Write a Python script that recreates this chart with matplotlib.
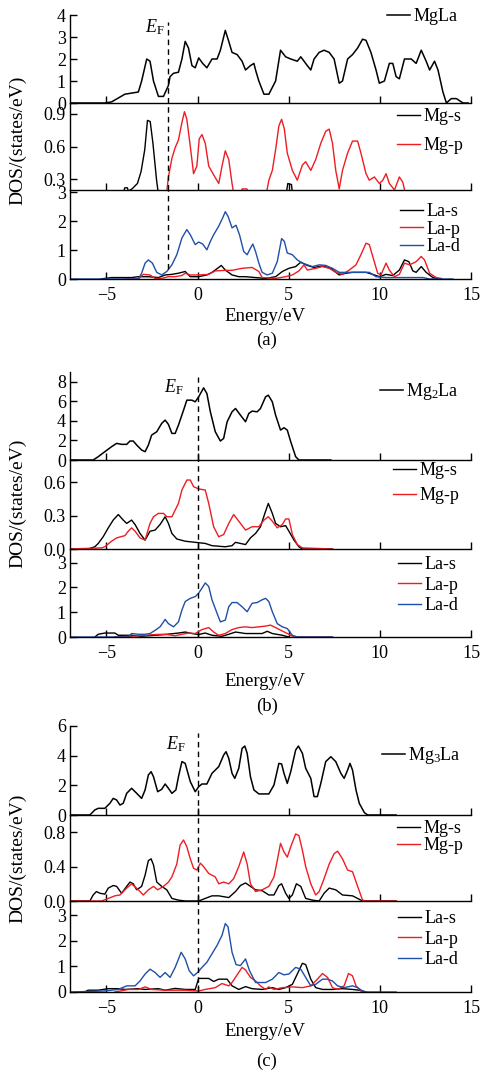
import matplotlib.pyplot as plt

plt.rcParams['font.family'] = ['Liberation Serif', 'DejaVu Serif']
plt.rcParams['mathtext.fontset'] = 'custom'
plt.rcParams['mathtext.rm'] = 'Liberation Serif'
plt.rcParams['mathtext.it'] = 'Liberation Serif:italic'

BLACK = 'black'
RED = '#ee1d23'
BLUE = '#1f4fa8'

# ---------------- (a) MgLa ----------------
ef_a = -1.6
mgla_e = [-7.0, -5.09, -4.72, -3.99, -3.25, -3.07, -2.79, -2.61, -2.42, -2.15, -1.87, -1.60, -1.51, -1.32,
          -1.05, -0.86, -0.68, -0.50, -0.31, -0.13, 0.06, 0.28, 0.51, 0.79, 1.07, 1.25, 1.52, 1.71, 1.89,
          2.17, 2.44, 2.63, 2.90, 3.09, 3.18, 3.36, 3.64, 3.91, 4.28, 4.55, 4.83, 5.11, 5.47, 5.66, 5.84,
          6.02, 6.21, 6.39, 6.67, 6.94, 7.22, 7.49, 7.77, 7.95, 8.23, 8.50, 8.78, 9.05, 9.24, 9.51, 9.79,
          9.97, 10.25, 10.52, 10.71, 10.89, 11.07, 11.35, 11.72, 11.99, 12.27, 12.54, 12.73, 13.00, 13.19,
          13.46, 13.65, 13.92, 14.20, 14.56, 14.84]
mgla_dos = [0, 0, 0.05, 0.4, 0.5, 1.0, 2.0, 1.9, 1.0, 0.3, 0.3, 0.8, 1.2, 1.35, 1.4, 2.0, 2.8, 2.5, 1.7, 1.6,
            2.05, 1.8, 1.6, 2.0, 2.0, 2.4, 3.3, 2.8, 2.3, 2.2, 1.9, 1.5, 1.7, 1.8, 1.5, 1.0, 0.4, 0.4, 1.0,
            2.4, 2.1, 2.0, 1.9, 2.1, 1.9, 1.7, 1.5, 2.0, 2.3, 2.4, 2.3, 2.0, 0.9, 1.0, 2.0, 2.2, 2.5, 2.9,
            2.85, 2.3, 1.5, 0.9, 1.0, 1.8, 1.8, 1.2, 1.1, 2.0, 2.0, 1.8, 2.4, 1.9, 1.5, 1.9, 1.5, 0.5, 0.0,
            0.2, 0.2, 0.0, 0.0]

a_mgs_e = [-4.15, -4.0, -3.85, -3.8, -3.6, -3.3, -3.1, -2.9, -2.75, -2.6, -2.45, -2.25, -2.1, 4.8, 4.95, 5.15, 5.25]
a_mgs = [0.1, 0.22, 0.22, 0.19, 0.21, 0.26, 0.37, 0.57, 0.84, 0.83, 0.63, 0.29, 0.1, 0.1, 0.26, 0.25, 0.1]

a_mgp_e = [-1.75, -1.60, -1.41, -1.23, -1.05, -0.86, -0.72, -0.59, -0.40, -0.22, -0.04, 0.09, 0.24, 0.42, 0.61,
           0.88, 1.16, 1.34, 1.52, 1.71, 1.89, 2.05, 2.35, 2.45, 2.7, 2.8, 3.7, 3.91, 4.10, 4.28, 4.46, 4.61,
           4.76, 4.92, 5.20, 5.47, 5.75, 5.93, 6.21, 6.48, 6.76, 7.03, 7.22, 7.40, 7.58, 7.77, 7.95, 8.23,
           8.50, 8.78, 8.96, 9.24, 9.42, 9.70, 9.97, 10.16, 10.34, 10.52, 10.80, 11.07, 11.26, 11.5]
a_mgp = [0.1, 0.32, 0.49, 0.59, 0.66, 0.82, 0.92, 0.85, 0.6, 0.35, 0.42, 0.67, 0.71, 0.63, 0.42, 0.34, 0.26,
         0.42, 0.56, 0.48, 0.26, 0.1, 0.18, 0.21, 0.21, 0.18, 0.1, 0.29, 0.38, 0.57, 0.79, 0.85, 0.76, 0.54,
         0.38, 0.29, 0.43, 0.46, 0.38, 0.48, 0.63, 0.74, 0.76, 0.63, 0.38, 0.21, 0.38, 0.54, 0.65, 0.65, 0.54,
         0.35, 0.29, 0.32, 0.26, 0.29, 0.35, 0.26, 0.2, 0.32, 0.27, 0.1]

a_las_e = [-5.3, -5.09, -4.72, -3.62, -3.25, -2.70, -2.15, -1.78, -1.41, -1.05, -0.68, -0.40, 0.06, 0.51, 0.79,
           1.16, 1.30, 1.52, 1.89, 2.26, 2.63, 3.18, 3.73, 4.28, 4.65, 5.01, 5.38, 5.66, 6.02, 6.39, 6.85,
           7.31, 7.77, 8.14, 8.50, 9.24, 9.61, 9.97, 10.34, 10.71, 11.07, 11.35, 11.59, 11.81, 11.99, 12.27,
           12.54, 12.91, 13.28]
a_las = [0, 0.02, 0.05, 0.05, 0.08, 0.08, 0.05, 0.14, 0.16, 0.2, 0.26, 0.08, 0.08, 0.14, 0.23, 0.4, 0.47,
         0.31, 0.14, 0.08, 0.08, 0.05, 0.02, 0.08, 0.26, 0.37, 0.43, 0.58, 0.47, 0.4, 0.45, 0.37, 0.14, 0.2,
         0.23, 0.23, 0.16, 0.08, 0.16, 0.12, 0.31, 0.66, 0.6, 0.28, 0.23, 0.43, 0.23, 0.05, 0.0]

a_lap_e = [-4.0, -3.25, -2.98, -2.61, -2.33, -1.97, -1.60, -1.23, -0.86, -0.68, -0.40, 0.06, 0.61, 0.97, 1.52,
           1.89, 2.44, 2.99, 3.36, 3.54, 4.28, 4.83, 5.20, 5.56, 5.84, 6.02, 6.48, 6.85, 7.22, 7.58, 7.95,
           8.32, 8.69, 8.96, 9.24, 9.42, 9.61, 9.88, 10.06, 10.34, 10.52, 10.80, 11.07, 11.35, 11.63, 11.99,
           12.27, 12.45, 12.73, 13.09, 13.37]
a_lap = [0, 0, 0.16, 0.14, 0.02, 0.02, 0.08, 0.08, 0.12, 0.2, 0.14, 0.14, 0.16, 0.28, 0.3, 0.3, 0.37, 0.4,
         0.26, 0.05, 0.02, 0.08, 0.14, 0.28, 0.49, 0.31, 0.37, 0.43, 0.37, 0.23, 0.16, 0.31, 0.49, 0.84, 1.24,
         1.19, 0.78, 0.2, 0.14, 0.55, 0.31, 0.08, 0.16, 0.55, 0.49, 0.6, 0.78, 0.66, 0.2, 0.05, 0.02]

a_lad_e = [-7.0, -3.25, -3.07, -2.88, -2.70, -2.48, -2.24, -1.97, -1.69, -1.41, -1.14, -0.86, -0.59, -0.40,
           -0.13, 0.06, 0.28, 0.51, 0.70, 0.88, 1.16, 1.38, 1.52, 1.67, 1.89, 2.11, 2.30, 2.53, 2.72, 2.90,
           3.03, 3.18, 3.36, 3.54, 3.82, 4.10, 4.37, 4.61, 4.76, 4.92, 5.20, 5.47, 5.75, 6.02, 6.30, 6.67,
           7.03, 7.40, 7.77, 8.14, 8.87, 9.42, 9.79, 10.34, 11.07, 12.36, 12.73, 14.01]
a_lad = [0, 0, 0.2, 0.55, 0.66, 0.55, 0.23, 0.14, 0.26, 0.49, 0.84, 1.42, 1.71, 1.53, 1.19, 1.28, 1.21, 1.01,
         1.30, 1.53, 1.83, 2.12, 2.33, 2.17, 1.77, 1.86, 1.53, 0.95, 0.84, 1.07, 1.21, 0.95, 0.55, 0.23, 0.14,
         0.2, 0.6, 1.40, 1.30, 0.9, 0.84, 0.66, 0.55, 0.49, 0.43, 0.49, 0.47, 0.37, 0.23, 0.23, 0.23, 0.23,
         0.08, 0.05, 0.05, 0.05, 0.0, 0.0]

# ---------------- (b) Mg2La ----------------
ef_b = 0.0
mg2la_e = [-7.0, -5.73, -5.45, -5.09, -4.72, -4.44, -4.17, -3.89, -3.71, -3.53, -3.34, -3.07, -2.88, -2.70,
           -2.52, -2.24, -1.97, -1.78, -1.60, -1.41, -1.23, -1.05, -0.77, -0.59, -0.31, -0.13, 0.06, 0.33,
           0.51, 0.70, 0.97, 1.25, 1.43, 1.62, 1.89, 2.08, 2.35, 2.63, 2.81, 2.99, 3.27, 3.45, 3.73, 3.88,
           4.10, 4.28, 4.55, 4.74, 4.92, 5.11, 5.38, 5.56, 7.31]
mg2la_dos = [0, 0, 0.34, 0.85, 1.36, 1.7, 1.6, 1.6, 1.94, 1.94, 1.53, 1.02, 0.85, 1.53, 2.55, 2.89, 3.74,
             4.08, 3.64, 2.72, 2.72, 3.57, 5.1, 6.12, 6.12, 5.95, 6.46, 7.38, 6.8, 4.93, 2.89, 1.94, 2.21,
             3.91, 4.93, 5.27, 4.59, 3.91, 4.76, 5.0, 4.93, 5.27, 6.46, 6.63, 5.95, 4.59, 3.06, 3.3, 3.06,
             1.87, 0.34, 0, 0]

b_mgs_e = [-7.0, -6.01, -5.64, -5.45, -5.18, -4.90, -4.63, -4.35, -4.08, -3.89, -3.62, -3.43, -3.16, -2.88,
           -2.61, -2.33, -2.06, -1.78, -1.60, -1.41, -1.14, -0.68, -0.13, 0.42, 0.79, 1.52, 1.89, 2.08, 2.35,
           2.63, 2.90, 3.18, 3.45, 3.69, 3.88, 4.10, 4.28, 4.55, 4.83, 5.01, 5.29, 5.56, 5.75, 7.40]
b_mgs = [0, 0, 0.02, 0.05, 0.11, 0.19, 0.26, 0.31, 0.26, 0.23, 0.26, 0.22, 0.14, 0.08, 0.16, 0.17, 0.22,
         0.29, 0.23, 0.14, 0.09, 0.07, 0.06, 0.05, 0.03, 0.02, 0.03, 0.06, 0.05, 0.04, 0.1, 0.14, 0.2, 0.32,
         0.41, 0.32, 0.23, 0.2, 0.21, 0.16, 0.08, 0.02, 0, 0]

b_mgp_e = [-7.0, -5.27, -5.09, -4.72, -4.44, -3.99, -3.80, -3.62, -3.43, -3.16, -2.88, -2.61, -2.42, -2.15,
           -1.87, -1.69, -1.41, -1.05, -0.86, -0.59, -0.40, -0.22, 0.06, 0.42, 0.61, 0.88, 1.16, 1.43, 1.71,
           1.98, 2.26, 2.63, 2.99, 3.36, 3.64, 3.88, 4.10, 4.37, 4.65, 4.83, 5.01, 5.20, 5.47, 5.75, 7.40]
b_mgp = [0, 0.01, 0.02, 0.07, 0.1, 0.12, 0.16, 0.19, 0.16, 0.1, 0.08, 0.23, 0.29, 0.32, 0.32, 0.29, 0.29,
         0.41, 0.53, 0.62, 0.62, 0.56, 0.54, 0.53, 0.41, 0.2, 0.11, 0.13, 0.23, 0.31, 0.25, 0.17, 0.2, 0.2,
         0.26, 0.29, 0.25, 0.19, 0.22, 0.27, 0.27, 0.13, 0.04, 0.01, 0]

b_las_e = [-5.64, -5.45, -5.09, -4.54, -4.35, -3.62, -3.07, -2.33, -1.78, -1.05, -0.68, -0.31, 0.06, 0.42,
           0.79, 1.34, 1.71, 2.08, 2.63, 3.18, 3.54, 3.82, 4.10, 4.65, 5.01]
b_las = [0, 0.11, 0.16, 0.16, 0.07, 0.07, 0.03, 0.07, 0.1, 0.16, 0.2, 0.14, 0.1, 0.16, 0.07, 0.03, 0.11,
         0.2, 0.14, 0.14, 0.14, 0.23, 0.14, 0.07, 0]

b_lap_e = [-4.54, -3.62, -2.88, -2.33, -1.78, -1.23, -0.86, -0.50, -0.13, 0.24, 0.61, 0.88, 1.16, 1.52, 1.89,
           2.26, 2.63, 2.99, 3.36, 3.73, 4.00, 4.28, 4.65, 5.01, 5.29, 7.40]
b_lap = [0, 0.03, 0.07, 0.1, 0.11, 0.05, 0.11, 0.16, 0.14, 0.3, 0.38, 0.2, 0.07, 0.14, 0.3, 0.38, 0.41, 0.38,
         0.41, 0.44, 0.48, 0.38, 0.24, 0.11, 0, 0]

b_lad_e = [-7.0, -3.80, -3.62, -3.25, -2.88, -2.61, -2.33, -2.06, -1.87, -1.78, -1.60, -1.32, -1.05, -0.86,
           -0.68, -0.40, -0.13, 0.06, 0.24, 0.42, 0.61, 0.79, 1.07, 1.25, 1.52, 1.71, 1.89, 2.17, 2.44, 2.72,
           2.99, 3.27, 3.54, 3.73, 3.91, 4.10, 4.37, 4.65, 4.92, 5.20, 5.47, 7.40]
b_lad = [0, 0, 0.14, 0.11, 0.11, 0.14, 0.27, 0.41, 0.61, 0.71, 0.54, 0.41, 0.61, 1.09, 1.43, 1.56, 1.63,
         1.77, 1.97, 2.18, 2.04, 1.5, 0.95, 0.61, 0.68, 1.22, 1.39, 1.39, 1.22, 1.02, 1.36, 1.39, 1.5, 1.56,
         1.43, 1.02, 0.54, 0.41, 0.34, 0.07, 0, 0]

# ---------------- (c) Mg3La ----------------
ef_c = 0.0
mg3la_e = [-7.0, -5.91, -5.64, -5.45, -5.09, -4.81, -4.63, -4.44, -4.26, -4.08, -3.89, -3.62, -3.34, -3.07,
           -2.88, -2.70, -2.55, -2.42, -2.19, -1.97, -1.78, -1.60, -1.41, -1.19, -1.05, -0.86, -0.68, -0.40,
           -0.13, 0.06, 0.24, 0.51, 0.79, 1.16, 1.43, 1.56, 1.71, 1.89, 2.04, 2.26, 2.44, 2.59, 2.72, 2.90,
           3.09, 3.36, 3.91, 4.19, 4.46, 4.61, 4.74, 4.92, 5.11, 5.38, 5.53, 5.75, 5.93, 6.21, 6.39, 6.57,
           6.76, 7.03, 7.31, 7.58, 7.86, 8.04, 8.23, 8.36, 8.50, 8.69, 8.87, 9.15, 9.33, 10.89]
mg3la_dos = [0, 0, 0.34, 0.45, 0.45, 0.79, 1.12, 1.01, 0.67, 0.79, 1.46, 1.8, 1.46, 1.12, 1.69, 2.7, 2.92,
             2.58, 1.57, 1.73, 2.09, 1.8, 1.46, 1.69, 2.58, 3.6, 3.48, 2.25, 1.57, 1.91, 2.09, 2.09, 2.81,
             3.26, 4.04, 4.27, 3.82, 2.81, 2.47, 3.15, 4.49, 4.65, 4.16, 2.58, 1.69, 1.42, 1.42, 2.02, 3.48,
             3.44, 2.81, 2.13, 2.92, 4.38, 4.65, 4.16, 3.15, 2.47, 1.24, 1.24, 2.13, 3.6, 3.93, 3.6, 2.81,
             2.47, 3.03, 3.48, 3.03, 1.69, 0.79, 0.16, 0, 0]

c_mgs_e = [-7.0, -5.91, -5.73, -5.55, -5.36, -5.09, -4.90, -4.63, -4.44, -4.17, -3.89, -3.71, -3.53, -3.34,
           -3.07, -2.88, -2.70, -2.55, -2.42, -2.24, -1.97, -1.69, -1.41, -1.05, -0.68, 0.06, 0.42, 0.79, 1.16,
           1.71, 2.08, 2.35, 2.63, 2.90, 3.18, 3.54, 3.91, 4.19, 4.46, 4.61, 4.83, 5.01, 5.20, 5.42, 5.66,
           5.93, 6.30, 6.67, 6.94, 7.22, 7.58, 7.95, 8.50, 8.87, 9.05, 10.89]
c_mgs = [0, 0, 0.07, 0.11, 0.09, 0.08, 0.15, 0.18, 0.17, 0.09, 0.17, 0.22, 0.2, 0.13, 0.17, 0.3, 0.47, 0.49,
         0.42, 0.22, 0.17, 0.13, 0.03, 0.01, 0, 0, 0.03, 0.06, 0.06, 0.04, 0.11, 0.18, 0.21, 0.17, 0.13, 0.12,
         0.07, 0.07, 0.18, 0.2, 0.09, 0.03, 0.07, 0.2, 0.17, 0.03, 0.01, 0, 0.09, 0.15, 0.13, 0.07, 0.06, 0.02,
         0, 0]

c_mgp_e = [-7.0, -5.27, -4.90, -4.54, -4.26, -3.89, -3.62, -3.25, -2.98, -2.70, -2.42, -2.19, -1.87, -1.60,
           -1.41, -1.14, -0.96, -0.77, -0.59, -0.40, -0.22, -0.04, 0.15, 0.33, 0.61, 0.97, 1.16, 1.43, 1.71,
           1.98, 2.26, 2.53, 2.72, 2.90, 3.18, 3.54, 3.91, 4.19, 4.37, 4.55, 4.74, 4.92, 5.11, 5.38, 5.56,
           5.75, 5.93, 6.21, 6.48, 6.67, 6.94, 7.22, 7.49, 7.68, 7.95, 8.23, 8.50, 8.78, 9.05, 9.24, 10.89]
c_mgp = [0, 0, 0.03, 0.06, 0.07, 0.15, 0.2, 0.13, 0.07, 0.13, 0.17, 0.13, 0.17, 0.22, 0.28, 0.43, 0.65,
         0.71, 0.63, 0.49, 0.38, 0.36, 0.44, 0.4, 0.32, 0.28, 0.2, 0.22, 0.2, 0.26, 0.4, 0.57, 0.43, 0.2,
         0.11, 0.13, 0.17, 0.28, 0.47, 0.67, 0.57, 0.51, 0.63, 0.78, 0.76, 0.59, 0.4, 0.2, 0.07, 0.11, 0.26,
         0.43, 0.55, 0.58, 0.49, 0.36, 0.34, 0.17, 0.01, 0, 0]

c_las_e = [-6.19, -6.01, -5.45, -4.90, -4.35, -3.99, -3.25, -2.88, -2.15, -1.78, -1.23, -0.68, -0.13, 0.06,
           0.61, 0.88, 1.16, 1.62, 1.89, 2.26, 2.63, 2.99, 3.54, 4.10, 4.46, 4.83, 5.20, 5.47, 5.75, 5.93,
           6.21, 6.48, 6.85, 7.40, 7.95, 8.50, 8.87, 9.24]
c_las = [0, 0.07, 0.07, 0.13, 0.13, 0.1, 0.13, 0.1, 0.13, 0.07, 0.14, 0.1, 0.1, 0.53, 0.53, 0.41, 0.5, 0.5,
         0.24, 0.1, 0.21, 0.13, 0.1, 0.17, 0.1, 0.17, 0.3, 0.7, 1.12, 1.07, 0.5, 0.17, 0.1, 0.1, 0.13, 0.1,
         0.07, 0]

c_lap_e = [-4.54, -3.80, -3.25, -2.88, -2.52, -1.78, -0.68, 0.06, 0.42, 0.97, 1.34, 1.71, 1.89, 2.17, 2.44,
           2.63, 2.90, 3.18, 3.45, 3.73, 3.91, 4.19, 4.65, 5.20, 5.75, 6.21, 6.57, 6.85, 7.13, 7.40, 7.68,
           8.04, 8.28, 8.50, 8.69, 8.96, 9.24]
c_lap = [0, 0.1, 0.1, 0.2, 0.1, 0.07, 0.07, 0.04, 0.1, 0.17, 0.33, 0.24, 0.37, 0.67, 0.96, 0.86, 0.57, 0.43,
         0.24, 0.1, 0.2, 0.1, 0.17, 0.2, 0.17, 0.24, 0.5, 0.72, 0.57, 0.17, 0.1, 0.24, 0.72, 0.63, 0.24, 0.04, 0]

c_lad_e = [-7.0, -5.09, -4.35, -3.89, -3.43, -3.16, -2.88, -2.61, -2.33, -2.06, -1.78, -1.51, -1.23, -0.90,
           -0.68, -0.46, -0.22, 0.0, 0.24, 0.51, 0.79, 1.07, 1.34, 1.52, 1.67, 1.89, 2.11, 2.35, 2.63, 2.85,
           3.18, 3.73, 4.10, 4.46, 4.74, 5.01, 5.38, 5.66, 5.93, 6.21, 6.48, 6.85, 7.13, 7.40, 7.68, 8.04,
           8.50, 8.78, 9.05, 9.24, 10.89]
c_lad = [0, 0.04, 0.1, 0.24, 0.24, 0.43, 0.7, 0.89, 0.76, 0.57, 0.76, 0.57, 0.96, 1.55, 1.29, 0.83, 0.63,
         0.76, 0.96, 1.16, 1.49, 1.82, 2.21, 2.67, 2.54, 1.55, 1.07, 1.03, 1.29, 0.83, 0.37, 0.37, 0.5, 0.76,
         0.67, 0.7, 0.96, 0.89, 0.57, 0.24, 0.3, 0.5, 0.5, 0.43, 0.24, 0.17, 0.24, 0.17, 0.04, 0, 0]

xticks = [-5, 0, 5, 10, 15]

# ---------------- layout (pixels) ----------------
W, H = 481, 1072
X0, X1 = 70, 471
fig = plt.figure(figsize=(W / 100, H / 100), dpi=100)


def make_ax(top, bottom, ylim, yticks, last=False):
    ax = fig.add_axes([X0 / W, 1 - bottom / H, (X1 - X0) / W, (bottom - top) / H])
    ax.set_xlim(-7, 15)
    ax.set_ylim(*ylim)
    ax.set_xticks(xticks)
    ax.set_yticks(yticks)
    ax.patch.set_alpha(0)
    for s in ['top', 'right']:
        ax.spines[s].set_visible(False)
    for s in ['left', 'bottom']:
        ax.spines[s].set_linewidth(1.0)
    ax.tick_params(direction='in', length=5, width=1.0, labelsize=13)
    ax.tick_params(axis='x', pad=6, labelbottom=last)
    ax.tick_params(axis='y', pad=3)
    return ax


def add_legend(ax, x_px, top_px, spacing):
    ax.legend(loc='upper left', bbox_to_anchor=(x_px / W, 1 - top_px / H), bbox_transform=fig.transFigure,
              frameon=False, fontsize=13, handlelength=1.3, handletextpad=0.15, labelspacing=spacing,
              borderpad=0, borderaxespad=0)


def panel(tops, ylims, yticks, tot, parts_mg, parts_la, ef, ef_top, ef_label_xy, ef_bottom,
          label, legend_pos, xlab_y, tag, tag_y, ylab_y):
    ax1 = make_ax(tops[0], tops[1], ylims[0], yticks[0])
    ax2 = make_ax(tops[1], tops[2], ylims[1], yticks[1])
    ax3 = make_ax(tops[2], tops[3], ylims[2], yticks[2], last=True)

    ax1.plot(tot[0], tot[1], color=BLACK, lw=1.1, label=label)
    for e, d, c, lab in parts_mg:
        ax2.plot(e, d, color=c, lw=1.0, label=lab)
    for e, d, c, lab in parts_la:
        ax3.plot(e, d, color=c, lw=1.0, label=lab)

    dash = dict(color=BLACK, lw=1.0, ls=(0, (4, 3)))
    ax1.plot([ef, ef], [ylims[0][0], ef_top], **dash)
    ax2.axvline(ef, **dash)
    ax3.plot([ef, ef], [ef_bottom, ylims[2][1]], **dash)
    ax1.text(ef_label_xy[0], ef_label_xy[1], r'$E_{\mathrm{F}}$', fontsize=13, ha='center', va='center')

    add_legend(ax1, *legend_pos[0])
    add_legend(ax2, *legend_pos[1])
    add_legend(ax3, *legend_pos[2])

    fig.text(265 / W, 1 - xlab_y / H, 'Energy/eV', ha='center', va='center', fontsize=13.5)
    fig.text(267 / W, 1 - tag_y / H, tag, ha='center', va='center', fontsize=13.5)
    fig.text(18 / W, 1 - ylab_y / H, 'DOS/(states/eV)', ha='center', va='center', rotation=90, fontsize=14)


panel(tops=[15, 103, 190, 279],
      ylims=[(0, 4), (0.2, 1.0), (0, 3.08)],
      yticks=[[0, 1, 2, 3, 4], [0.3, 0.6, 0.9], [0, 1, 2, 3]],
      tot=(mgla_e, mgla_dos),
      parts_mg=[(a_mgs_e, a_mgs, BLACK, 'Mg-s'), (a_mgp_e, a_mgp, RED, 'Mg-p')],
      parts_la=[(a_las_e, a_las, BLACK, 'La-s'), (a_lap_e, a_lap, RED, 'La-p'), (a_lad_e, a_lad, BLUE, 'La-d')],
      ef=ef_a, ef_top=3.7, ef_label_xy=(-2.35, 3.45), ef_bottom=0.35,
      label='MgLa',
      legend_pos=[(387, 8, 0.0), (397, 108, 0.67), (400, 203, 0.03)],
      xlab_y=317, tag='(a)', tag_y=340, ylab_y=140)

panel(tops=[372, 460, 549, 637],
      ylims=[(0, 9), (0, 0.8), (0, 3.55)],
      yticks=[[0, 2, 4, 6, 8], [0.0, 0.3, 0.6], [0, 1, 2, 3]],
      tot=(mg2la_e, mg2la_dos),
      parts_mg=[(b_mgs_e, b_mgs, BLACK, 'Mg-s'), (b_mgp_e, b_mgp, RED, 'Mg-p')],
      parts_la=[(b_las_e, b_las, BLACK, 'La-s'), (b_lap_e, b_lap, RED, 'La-p'), (b_lad_e, b_lad, BLUE, 'La-d')],
      ef=ef_b, ef_top=8.5, ef_label_xy=(-1.3, 7.5), ef_bottom=0.0,
      label=r'Mg$_2$La',
      legend_pos=[(380, 381, 0.0), (393, 462, 0.45), (398, 556, 0.2)],
      xlab_y=681, tag='(b)', tag_y=706, ylab_y=503)

panel(tops=[726, 815, 901, 992],
      ylims=[(0, 6), (0, 1.0), (0, 3.55)],
      yticks=[[0, 2, 4, 6], [0.0, 0.4, 0.8], [0, 1, 2, 3]],
      tot=(mg3la_e, mg3la_dos),
      parts_mg=[(c_mgs_e, c_mgs, BLACK, 'Mg-s'), (c_mgp_e, c_mgp, RED, 'Mg-p')],
      parts_la=[(c_las_e, c_las, BLACK, 'La-s'), (c_lap_e, c_lap, RED, 'La-p'), (c_lad_e, c_lad, BLUE, 'La-d')],
      ef=ef_c, ef_top=5.5, ef_label_xy=(-1.2, 4.75), ef_bottom=0.0,
      label=r'Mg$_3$La',
      legend_pos=[(382, 745, 0.0), (397, 820, 0.0), (398, 910, 0.2)],
      xlab_y=1031, tag='(c)', tag_y=1061, ylab_y=858)

fig.savefig('out.png', dpi=100)
